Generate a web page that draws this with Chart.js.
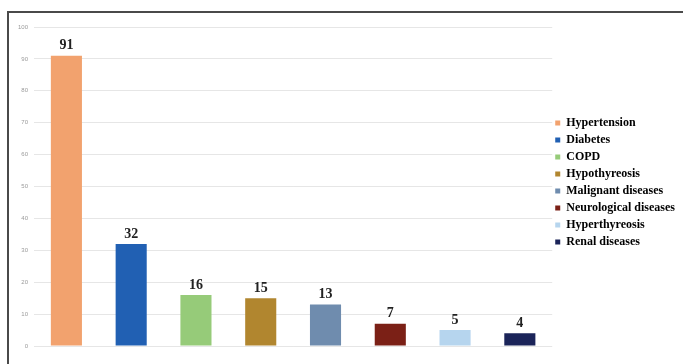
<!DOCTYPE html>
<html>
<head>
<meta charset="utf-8">
<script src="https://cdn.jsdelivr.net/npm/chart.js@4/dist/chart.umd.min.js"></script>
<style>
  html, body { margin: 0; padding: 0; background: #ffffff; }
  #wrap { position: relative; width: 683px; height: 364px; overflow: hidden; }
  #frame {
    position: absolute; left: 7px; top: 11px; width: 690px; height: 370px;
    border-top: 2px solid #4a4a4a; border-left: 2px solid #4a4a4a;
    box-sizing: border-box; pointer-events: none;
  }
  canvas { position: absolute; left: 0; top: 0; }
</style>
</head>
<body>
<div id="wrap">
  <canvas id="chart" width="683" height="364"></canvas>
  <div id="frame"></div>
</div>
<script>
// Comorbidities: number of patients per condition
const categories = [
  'Hypertension', 'Diabetes', 'COPD', 'Hypothyreosis',
  'Malignant diseases', 'Neurological diseases', 'Hyperthyreosis', 'Renal diseases'
];
const patientCounts = [91, 32, 16, 15, 13, 7, 5, 4];
const barColors = [
  '#F2A26E', '#2160B3', '#96CB79', '#B1862F',
  '#6F8CAE', '#7B2016', '#B6D5EE', '#1B2459'
];
const yTicks = [0, 10, 20, 30, 40, 50, 60, 70, 80, 90, 100];

// Writes each bar's value just above it
const valueLabels = {
  id: 'valueLabels',
  afterDatasetsDraw(chart) {
    const ctx = chart.ctx;
    const meta = chart.getDatasetMeta(0);
    const values = chart.data.datasets[0].data;
    ctx.save();
    ctx.font = 'bold 14px "Liberation Serif", serif';
    ctx.fillStyle = '#222222';
    ctx.textAlign = 'center';
    ctx.textBaseline = 'bottom';
    meta.data.forEach((bar, i) => {
      ctx.fillText(String(values[i]), bar.x, bar.y - 3);
    });
    ctx.restore();
  }
};

// Nudges the legend block slightly up and left after layout
const legendOffset = {
  id: 'legendOffset',
  afterLayout(chart) {
    const lg = chart.legend;
    if (!lg) return;
    lg.top -= 4; lg.bottom -= 4;
    lg.left -= 2; lg.right -= 2;
  }
};

new Chart(document.getElementById('chart'), {
  type: 'bar',
  data: {
    labels: categories,
    datasets: [{
      data: patientCounts,
      backgroundColor: barColors,
      borderColor: barColors,
      borderWidth: 0,
      categoryPercentage: 1.0,
      barPercentage: 0.48
    }]
  },
  options: {
    responsive: false,
    animation: false,
    layout: { padding: { top: 27, bottom: 18, left: 12, right: -4 } },
    plugins: {
      tooltip: { enabled: false },
      legend: {
        position: 'right',
        labels: {
          boxWidth: 5,
          boxHeight: 5,
          padding: 5,
          color: '#333333',
          font: { family: '"Liberation Serif", serif', size: 12, weight: 'bold' },
          generateLabels(chart) {
            const ds = chart.data.datasets[0];
            return chart.data.labels.map((label, i) => ({
              text: label,
              fillStyle: ds.backgroundColor[i],
              strokeStyle: ds.backgroundColor[i],
              lineWidth: 0,
              hidden: false,
              index: i
            }));
          }
        }
      }
    },
    scales: {
      x: { display: false },
      y: {
        min: 0,
        max: 100,
        afterBuildTicks(axis) { axis.ticks = yTicks.map(v => ({ value: v })); },
        grid: { color: '#e6e6e6', lineWidth: 1, drawTicks: false },
        border: { display: false },
        ticks: {
          padding: 6,
          color: '#9a9a9a',
          font: { family: '"Liberation Sans", sans-serif', size: 6 }
        }
      }
    }
  },
  plugins: [valueLabels, legendOffset]
});
</script>
</body>
</html>
